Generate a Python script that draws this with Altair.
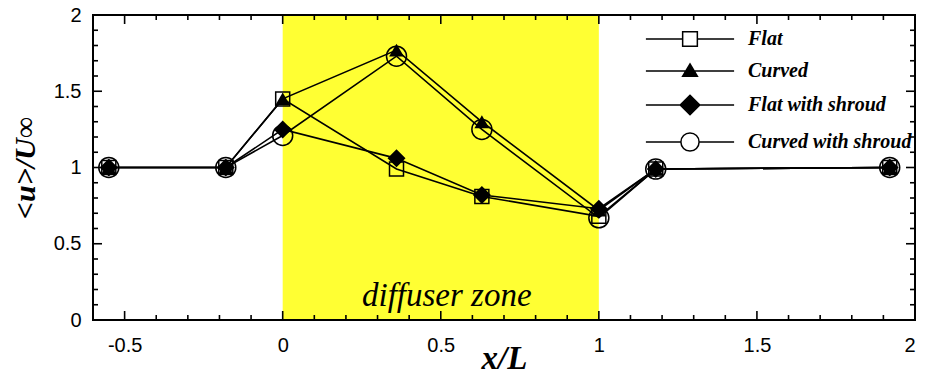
import altair as alt
import pandas as pd

# ---- data ----
series_names = ["Flat", "Curved", "Flat with shroud", "Curved with shroud"]
x_pos = [-0.55, -0.18, 0.0, 0.36, 0.63, 1.0, 1.18, 1.92]
flat = [1.0, 1.0, 1.45, 0.99, 0.81, 0.68, 0.99, 1.0]
curved = [1.0, 1.0, 1.45, 1.77, 1.30, 0.72, 0.99, 1.0]
flat_shroud = [1.0, 1.0, 1.25, 1.06, 0.82, 0.73, 0.99, 1.0]
curved_shroud = [1.0, 1.0, 1.21, 1.73, 1.25, 0.67, 0.99, 1.0]
zone_start = [0.0]
zone_end = [1.0]
zone_label = ["diffuser zone"]
zone_label_x = [0.5]
zone_label_y = [0.09]
x_major = [-0.5, 0.0, 0.5, 1.0, 1.5, 2.0]
y_major = [0.0, 0.5, 1.0, 1.5, 2.0]
x_minor = [round(-0.6 + 0.1 * i, 1) for i in range(27) if round((-0.6 + 0.1 * i) * 10) % 5 != 0]
y_minor = [round(0.1 * i, 1) for i in range(21) if i % 5 != 0]

W, H = 822, 305

rows = []
for name, vals in zip(series_names, [flat, curved, flat_shroud, curved_shroud]):
    for i, (xv, yv) in enumerate(zip(x_pos, vals)):
        rows.append({"series": name, "x": xv, "y": yv, "order": i})
df = pd.DataFrame(rows)

xs = alt.Scale(domain=[-0.6, 2.0], nice=False, zero=False)
ys = alt.Scale(domain=[0, 2], nice=False, zero=False)

base = alt.Chart(df)

zone = alt.Chart(pd.DataFrame({"a": zone_start, "b": zone_end})).mark_rect(
    color="#FFFF33"
).encode(
    x=alt.X("a:Q", scale=xs,
            axis=alt.Axis(values=x_major, labelExpr="toString(datum.value)", ticks=False,
                          domain=False, grid=False, labelFont="Liberation Sans",
                          labelFontSize=20, labelColor="black", labelPadding=15,
                          title="x/L", titleFont="Liberation Serif", titleFontSize=33,
                          titleFontStyle="italic", titleFontWeight="bold", titleColor="black",
                          titleY=48, titleBaseline="alphabetic")),
    x2="b:Q",
    y=alt.value(0),
    y2=alt.value(H),
)

zone_text = alt.Chart(pd.DataFrame({"t": zone_label, "x": zone_label_x, "y": zone_label_y})).mark_text(
    font="Liberation Serif", fontStyle="italic", fontSize=33, color="black",
    baseline="alphabetic", dx=6
).encode(
    x=alt.X("x:Q", scale=xs),
    y=alt.Y("y:Q", scale=ys,
            axis=alt.Axis(values=y_major, labelExpr="toString(datum.value)", ticks=False,
                          domain=False, grid=False, labelFont="Liberation Sans",
                          labelFontSize=20, labelColor="black", labelPadding=12,
                          title="<u>/U∞", titleFont="Liberation Serif", titleFontSize=30,
                          titleFontStyle="italic", titleFontWeight="bold", titleColor="black",
                          titleX=-68, titleY=H / 2, titleBaseline="middle", titleAngle=-90)),
    text="t:N",
)

lines = base.mark_line(color="black", strokeWidth=1.6).encode(
    x=alt.X("x:Q", scale=xs), y=alt.Y("y:Q", scale=ys), detail="series:N", order="order:Q"
)

shape_spec = {
    "Flat": dict(shape="square", filled=False, size=196),
    "Curved": dict(shape="triangle-up", filled=True, size=220),
    "Flat with shroud": dict(shape="diamond", filled=True, size=324),
    "Curved with shroud": dict(shape="circle", filled=False, size=400),
}
point_layers = []
for name in series_names:
    sp = shape_spec[name]
    point_layers.append(
        base.transform_filter(alt.datum.series == name).mark_point(
            shape=sp["shape"], filled=sp["filled"], size=sp["size"], color="black",
            strokeWidth=1.5, opacity=1
        ).encode(x=alt.X("x:Q", scale=xs), y=alt.Y("y:Q", scale=ys))
    )

# legend symbols: line + marker in one custom path (unit = 7px)
legend_paths = [
    "M-6.3,0H-1.05M1.05,0H6.3M-1.05,-1.05H1.05V1.05H-1.05Z",
    "M-6.3,0H6.3M0,-1.0L1.05,0.75L-1.05,0.75Z",
    "M-6.3,0H6.3M0,-1.4L1.4,0L0,1.4L-1.4,0Z",
    "M-6.3,0H-1.3M1.3,0H6.3M-1.3,0A1.3,1.3 0 1,0 1.3,0A1.3,1.3 0 1,0 -1.3,0Z",
]
legend_fills = ["white", "black", "black", "white"]
legend_strokes = ["black", "black", "black", "black"]
leg = alt.Legend(
    title=None, orient="none", legendX=587, legendY=14, symbolSize=196,
    symbolStrokeColor="black", symbolStrokeWidth=1.5, labelOffset=48,
    labelFont="Liberation Serif", labelFontStyle="italic", labelFontWeight="bold",
    labelFontSize=20, labelColor="black", rowPadding=11, padding=0, labelLimit=300,
)
legend_layer = base.transform_filter("false").mark_point(strokeWidth=1.5, opacity=1).encode(
    x=alt.X("x:Q", scale=xs), y=alt.Y("y:Q", scale=ys),
    shape=alt.Shape("series:N", scale=alt.Scale(domain=series_names, range=legend_paths), legend=leg),
    fill=alt.Fill("series:N", scale=alt.Scale(domain=series_names, range=legend_fills), legend=leg),
    stroke=alt.Stroke("series:N", scale=alt.Scale(domain=series_names, range=legend_strokes), legend=leg),
)

# inward ticks on all four sides
def xticks(vals, length):
    d = pd.DataFrame({"v": vals})
    b = alt.Chart(d).mark_rule(color="black", strokeWidth=1.6).encode(
        x=alt.X("v:Q", scale=xs), y=alt.value(H), y2=alt.value(H - length))
    t = alt.Chart(d).mark_rule(color="black", strokeWidth=1.6).encode(
        x=alt.X("v:Q", scale=xs), y=alt.value(0), y2=alt.value(length))
    return [b, t]

def yticks(vals, length):
    d = pd.DataFrame({"v": vals})
    l = alt.Chart(d).mark_rule(color="black", strokeWidth=1.6).encode(
        y=alt.Y("v:Q", scale=ys), x=alt.value(0), x2=alt.value(length))
    r = alt.Chart(d).mark_rule(color="black", strokeWidth=1.6).encode(
        y=alt.Y("v:Q", scale=ys), x=alt.value(W), x2=alt.value(W - length))
    return [l, r]

tick_layers = xticks(x_major, 9) + xticks(x_minor, 5) + yticks(y_major, 9) + yticks(y_minor, 5)

frame = alt.Chart(pd.DataFrame({"f": [0]})).mark_rect(
    fill=None, stroke="black", strokeWidth=2
).encode(x=alt.value(0), x2=alt.value(W), y=alt.value(0), y2=alt.value(H))

chart = alt.layer(
    zone, zone_text, lines, *point_layers, frame, *tick_layers, legend_layer
).properties(
    width=W, height=H,
    autosize=alt.AutoSizeParams(type="none"),
    padding={"left": 85, "top": 7, "right": 5, "bottom": 54},
).configure_view(stroke=None)

chart.save("out.html", embed_options={"renderer": "svg", "actions": False})
